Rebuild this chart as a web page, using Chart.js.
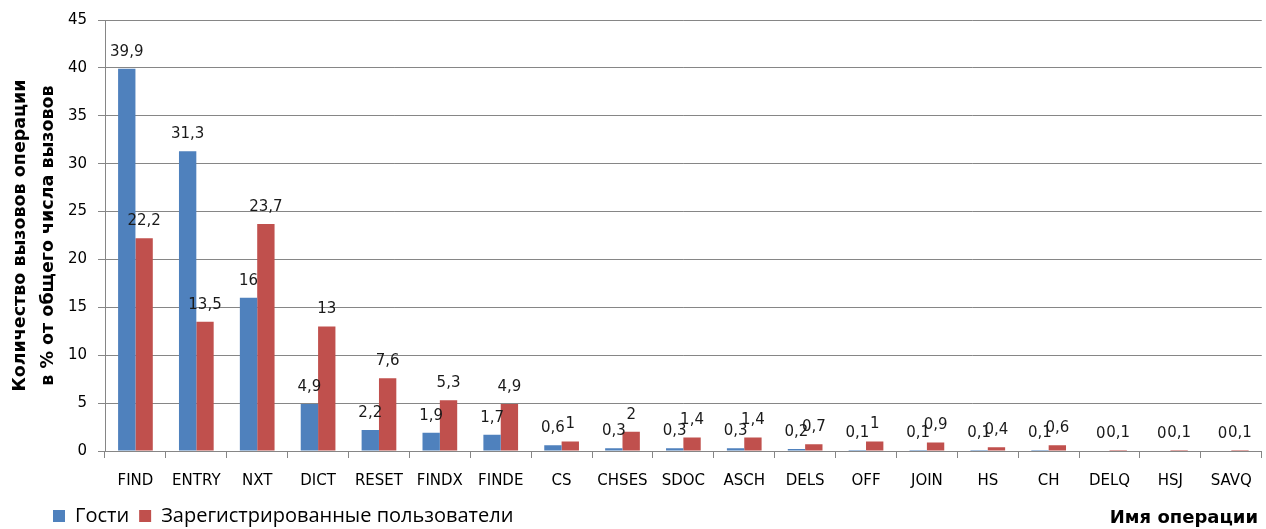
<!DOCTYPE html>
<html>
<head>
<meta charset="utf-8">
<script src="https://cdn.jsdelivr.net/npm/chart.js@4.4.1/dist/chart.umd.min.js"></script>
<style>
html, body { margin: 0; padding: 0; background: #fff; }
#wrap { width: 1266px; height: 529px; position: relative; }
</style>
</head>
<body>
<div id="wrap"><canvas id="myChart"></canvas></div>
<script>
var operations = ["FIND", "ENTRY", "NXT", "DICT", "RESET", "FINDX", "FINDE", "CS", "CHSES", "SDOC",
    "ASCH", "DELS", "OFF", "JOIN", "HS", "CH", "DELQ", "HSJ", "SAVQ"];
var guests = [39.9, 31.3, 16, 4.9, 2.2, 1.9, 1.7, 0.6, 0.3, 0.3, 0.3, 0.2, 0.1, 0.1, 0.1, 0.1, 0, 0, 0];
var registered = [22.2, 13.5, 23.7, 13, 7.6, 5.3, 4.9, 1, 2, 1.4, 1.4, 0.7, 1, 0.9, 0.4, 0.6, 0.1, 0.1, 0.1];
var seriesNames = ["Гости", "Зарегистрированные пользователи"];
var yTitle = ["Количество вызовов операции", "в % от общего числа вызовов"];
var xTitle = "Имя операции";

var font = "DejaVu Sans";
var gridColor = "#868686";

// value labels over bars, x axis title, legend position
var barValues = {
    id: "barValues",
    afterLayout: function (chart) {
        chart.legend.left = 43;
        chart.legend.top = 496;
    },
    afterDatasetsDraw: function (chart) {
        var ctx = chart.ctx;
        ctx.save();
        ctx.font = "15px '" + font + "'";
        ctx.fillStyle = "#1a1a1a";
        ctx.textAlign = "center";
        ctx.textBaseline = "middle";
        chart.data.datasets.forEach(function (ds, i) {
            chart.getDatasetMeta(i).data.forEach(function (bar, j) {
                var txt = String(ds.data[j]).replace(".", ",");
                ctx.fillText(txt, bar.x, bar.y - 17);
            });
        });
        ctx.restore();
    },
    afterDraw: function (chart) {
        var ctx = chart.ctx;
        ctx.save();
        ctx.font = "bold 18px '" + font + "'";
        ctx.fillStyle = "#000";
        ctx.textAlign = "right";
        ctx.textBaseline = "middle";
        ctx.fillText(xTitle, 1258, 518);
        ctx.restore();
    }
};

new Chart("myChart", {
    type: "bar",
    data: {
        labels: operations,
        datasets: [{
            label: seriesNames[0],
            data: guests,
            backgroundColor: "#4f81bd"
        }, {
            label: seriesNames[1],
            data: registered,
            backgroundColor: "#c0504d"
        }]
    },
    options: {
        responsive: true,
        maintainAspectRatio: false,
        animation: false,
        layout: { padding: { top: 20, right: 4, left: 0, bottom: 0 } },
        datasets: { bar: { categoryPercentage: 0.57, barPercentage: 1 } },
        plugins: {
            legend: {
                position: "bottom",
                align: "start",
                labels: {
                    boxWidth: 12,
                    boxHeight: 12,
                    padding: 10,
                    color: "#000",
                    font: { family: "Open Sans", size: 20 }
                }
            },
            tooltip: { enabled: false }
        },
        scales: {
            x: {
                grid: { display: true, drawOnChartArea: false, drawTicks: true, tickLength: 7, color: gridColor, offset: true },
                border: { color: gridColor },
                ticks: { color: "#000", font: { family: font, size: 15 }, padding: 14, maxRotation: 0, autoSkip: false },
                afterFit: function (s) { s.height = 38; }
            },
            y: {
                min: 0,
                max: 45,
                grid: { color: gridColor, tickLength: 7 },
                border: { color: gridColor },
                ticks: { stepSize: 5, color: "#000", font: { family: font, size: 15 }, padding: 11 },
                title: {
                    display: true,
                    text: yTitle,
                    color: "#000",
                    font: { family: font, size: 17.5, weight: "bold", lineHeight: 1.6 },
                    padding: { top: 6, bottom: 0 }
                },
                afterFit: function (s) { s.width = 105; }
            }
        }
    },
    plugins: [barValues]
});
</script>
</body>
</html>
